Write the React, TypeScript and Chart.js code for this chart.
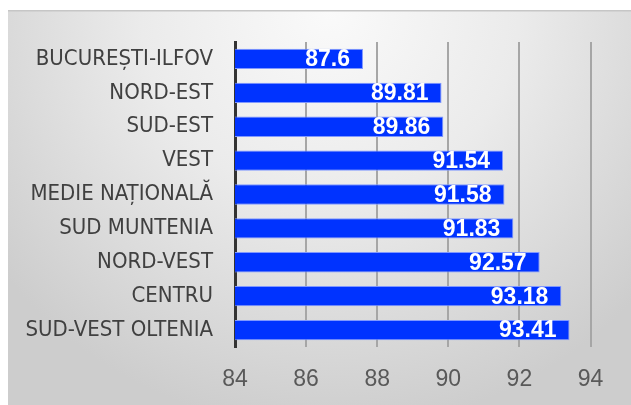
import React, { useEffect, useRef } from "react";
import { Chart, registerables } from "chart.js";

Chart.register(...registerables);

const categories = [
  "BUCUREȘTI-ILFOV",
  "NORD-EST",
  "SUD-EST",
  "VEST",
  "MEDIE NAȚIONALĂ",
  "SUD MUNTENIA",
  "NORD-VEST",
  "CENTRU",
  "SUD-VEST OLTENIA",
];
const values = [87.6, 89.81, 89.86, 91.54, 91.58, 91.83, 92.57, 93.18, 93.41];
const axisMin = 84;
const axisMax = 94;
const axisStep = 2;

const backgroundPlugin = {
  id: "bgPanel",
  beforeDraw(chart: any) {
    const ctx = chart.ctx;
    const w = chart.width;
    const h = chart.height;
    ctx.save();
    ctx.fillStyle = "#ffffff";
    ctx.fillRect(0, 0, w, h);
    const g = ctx.createRadialGradient(330, 10, 0, 330, 10, 420);
    g.addColorStop(0, "#fafafa");
    g.addColorStop(0.45, "#ebebeb");
    g.addColorStop(1, "#cdcdcd");
    ctx.fillStyle = g;
    ctx.fillRect(8, 10, w - 8, h - 10);
    ctx.fillStyle = "#c6c6c6";
    ctx.fillRect(8, 10, w - 8, 1.5);
    ctx.restore();
  },
};

const valueLabelPlugin = {
  id: "valueLabels",
  afterDatasetsDraw(chart: any) {
    const ctx = chart.ctx;
    const meta = chart.getDatasetMeta(0);
    ctx.save();
    ctx.font = "bold 23px 'Liberation Sans', Arial, sans-serif";
    ctx.fillStyle = "#ffffff";
    ctx.textAlign = "right";
    ctx.textBaseline = "middle";
    meta.data.forEach((bar: any, i: number) => {
      ctx.fillText(String(values[i]), bar.x - 13, bar.y + 1);
    });
    ctx.restore();
  },
};

export default function App() {
  const ref = useRef<HTMLCanvasElement | null>(null);
  useEffect(() => {
    if (!ref.current) return;
    const chart = new Chart(ref.current, {
      type: "bar",
      data: {
        labels: categories,
        datasets: [
          {
            data: values,
            backgroundColor: "#0033ff",
            borderColor: "#8098ff",
            borderWidth: 1,
            borderSkipped: "start",
            categoryPercentage: 1,
            barPercentage: 0.6,
          },
        ],
      },
      options: {
        indexAxis: "y",
        responsive: false,
        animation: false,
        layout: { padding: { top: 42, right: 40.5, left: 0, bottom: 0 } },
        plugins: {
          legend: { display: false },
          tooltip: { enabled: false },
        },
        scales: {
          x: {
            type: "linear",
            min: axisMin,
            max: axisMax,
            ticks: {
              stepSize: axisStep,
              color: "#595959",
              font: { family: "'Liberation Sans', Arial, sans-serif", size: 23 },
              padding: 19,
            },
            grid: {
              color: (c: any) => (c.tick && c.tick.value === axisMin ? "rgba(0,0,0,0)" : "#a6a6a6"),
              lineWidth: 2,
              drawTicks: false,
            },
            border: { display: false },
            afterFit: (s: any) => {
              s.height = 58;
            },
          },
          y: {
            type: "category",
            ticks: {
              color: "#404040",
              font: { family: "'DejaVu Sans Condensed', sans-serif", size: 22 },
              padding: 22,
            },
            grid: { display: false, drawTicks: false },
            border: { display: true, color: "#333333", width: 3 },
            afterFit: (s: any) => {
              s.width = 235;
            },
          },
        },
      },
      plugins: [backgroundPlugin, valueLabelPlugin],
    });
    return () => chart.destroy();
  }, []);
  return (
    <div style={{ position: "fixed", left: 0, top: 0, width: 631, height: 405 }}>
      <canvas ref={ref} width={631} height={405} style={{ display: "block" }} />
    </div>
  );
}
